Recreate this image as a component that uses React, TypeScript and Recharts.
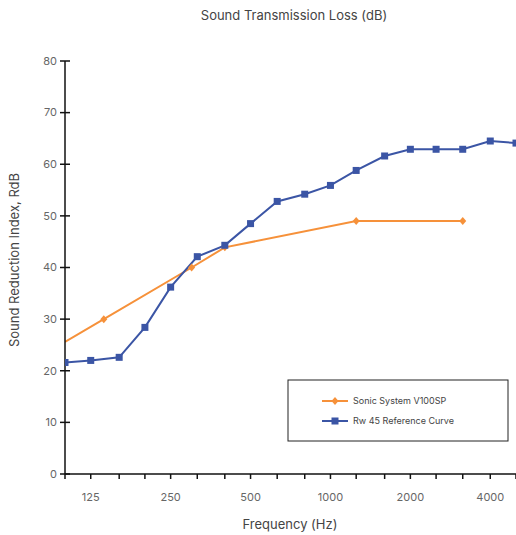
import React from "react";
import { LineChart, Line, XAxis, YAxis } from "recharts";

// third-octave bands (Hz)
const bands = [100, 125, 160, 200, 250, 315, 400, 500, 630, 800, 1000, 1250, 1600, 2000, 2500, 3150, 4000, 5000];
const freqLabels = [125, 250, 500, 1000, 2000, 4000];
const yTicks = [0, 10, 20, 30, 40, 50, 60, 70, 80];

const referenceValues = [21.6, 22.0, 22.6, 28.4, 36.2, 42.1, 44.3, 48.5, 52.8, 54.2, 55.9, 58.8, 61.6, 62.9, 62.9, 62.9, 64.5, 64.1];

const sonicFreqs = [100, 140, 300, 400, 1250, 3150];
const sonicValues = [25.6, 30.0, 40.0, 43.9, 49.0, 49.0];

const referenceData = bands.map((f, i) => ({ f, v: referenceValues[i] }));
const sonicData = sonicFreqs.map((f, i) => ({ f, v: sonicValues[i] }));

const ORANGE = "#F6913A";
const BLUE = "#3B55A5";
const FONT = "Inter, 'Open Sans', sans-serif";

const SquareDot = (props: any) => {
  const { cx, cy, key } = props;
  return <rect key={key} x={cx - 3.5} y={cy - 3.5} width={7} height={7} fill={BLUE} />;
};

const DiamondDot = (props: any) => {
  const { cx, cy, index, key } = props;
  if (index === 0) return <g key={key} />;
  return (
    <path key={key} d={`M${cx},${cy - 4} L${cx + 3.5},${cy} L${cx},${cy + 4} L${cx - 3.5},${cy} Z`} fill={ORANGE} />
  );
};

const XTick = (props: any) => {
  const { x, y, payload } = props;
  if (!freqLabels.includes(payload.value)) return <g />;
  return (
    <text x={x} y={y} dy="0.71em" textAnchor="middle" fontSize={11} fill="#666" fontFamily={FONT}>
      {payload.value}
    </text>
  );
};

const YTick = (props: any) => {
  const { x, y, payload } = props;
  return (
    <g>
      <line x1={x - 5} x2={x + 5} y1={y} y2={y} stroke="#111" strokeWidth={1.5} />
      <text x={x - 8} y={y} dy="0.35em" textAnchor="end" fontSize={11} fill="#666" fontFamily={FONT}>
        {payload.value}
      </text>
    </g>
  );
};

export default function App() {
  return (
    <div style={{ position: "absolute", left: 0, top: 0, width: 516, height: 535, background: "#fff" }}>
      <LineChart width={516} height={535} margin={{ top: 61, right: 0, left: 0, bottom: 1 }}>
        <XAxis
          type="number"
          dataKey="f"
          scale="log"
          domain={[100, 5000]}
          ticks={bands}
          interval={0}
          tick={<XTick />}
          tickSize={5}
          tickMargin={14}
          tickLine={{ stroke: "#111", strokeWidth: 1.5 }}
          axisLine={{ stroke: "#111", strokeWidth: 1.5 }}
          height={60}
          allowDataOverflow
        />
        <YAxis
          type="number"
          domain={[0, 80]}
          ticks={yTicks}
          interval={0}
          width={65}
          tick={<YTick />}
          tickSize={0}
          tickMargin={0}
          tickLine={false}
          axisLine={{ stroke: "#111", strokeWidth: 1.5 }}
        />
        <Line
          data={sonicData}
          dataKey="v"
          stroke={ORANGE}
          strokeWidth={2}
          dot={DiamondDot}
          isAnimationActive={false}
        />
        <Line
          data={referenceData}
          dataKey="v"
          stroke={BLUE}
          strokeWidth={2}
          dot={SquareDot}
          isAnimationActive={false}
        />
      </LineChart>
      <svg
        width={516}
        height={535}
        style={{ position: "absolute", left: 0, top: 0, pointerEvents: "none" }}
        fontFamily={FONT}
      >
        <text x={294} y={15} dy="0.35em" textAnchor="middle" fontSize={13} fill="#444">
          Sound Transmission Loss (dB)
        </text>
        <text x={290} y={524} dy="0.35em" textAnchor="middle" fontSize={13} fill="#444">
          Frequency (Hz)
        </text>
        <text
          x={14}
          y={260}
          dy="0.35em"
          textAnchor="middle"
          fontSize={13}
          fill="#444"
          transform="rotate(-90 14 260)"
        >
          Sound Reduction Index, RdB
        </text>
        <g>
          <rect x={288} y={380} width={220} height={61} fill="#fff" stroke="#222" strokeWidth={1} />
          <line x1={322} x2={348} y1={401} y2={401} stroke={ORANGE} strokeWidth={2} />
          <path d="M335,397 L338.5,401 L335,405 L331.5,401 Z" fill={ORANGE} />
          <text x={353} y={401} dy="0.35em" fontSize={9} fill="#444">
            Sonic System V100SP
          </text>
          <line x1={322} x2={348} y1={421} y2={421} stroke={BLUE} strokeWidth={2} />
          <rect x={331.5} y={417.5} width={7} height={7} fill={BLUE} />
          <text x={353} y={421} dy="0.35em" fontSize={9} fill="#444">
            Rw 45 Reference Curve
          </text>
        </g>
      </svg>
    </div>
  );
}
